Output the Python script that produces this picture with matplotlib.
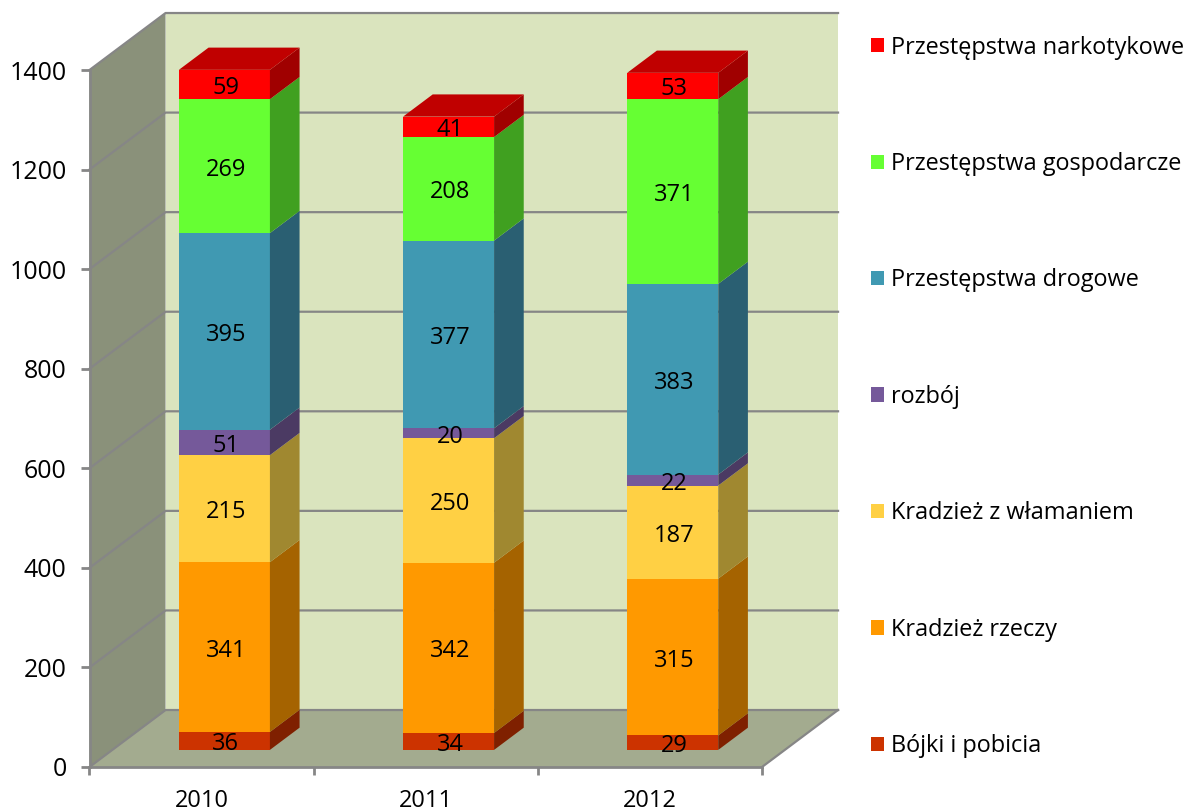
import matplotlib
matplotlib.use("Agg")
from matplotlib import pyplot as plt
from matplotlib.patches import Patch

plt.rcParams['font.family'] = ['Open Sans', 'DejaVu Sans']

years = ["2010", "2011", "2012"]
series_names = ["Bójki i pobicia", "Kradzież rzeczy", "Kradzież z włamaniem", "rozbój",
                "Przestępstwa drogowe", "Przestępstwa gospodarcze", "Przestępstwa narkotykowe"]
bojki = [36, 34, 29]
rzeczy = [341, 342, 315]
wlamanie = [215, 250, 187]
rozboj = [51, 20, 22]
drogowe = [395, 377, 383]
gospodarcze = [269, 208, 371]
narkotykowe = [59, 41, 53]
series = [bojki, rzeczy, wlamanie, rozboj, drogowe, gospodarcze, narkotykowe]

front_colors = ["#CC3300", "#FF9900", "#FFD044", "#75599A", "#4099B2", "#66FF33", "#FF0000"]
side_colors = ["#7F2000", "#A56300", "#A08830", "#4B3A63", "#2A5F72", "#40A020", "#A00000"]
top_color = "#C00000"
axis_color = "#868686"

# how far the box goes back, in data units
DEPTH_X = 76 / 224
DEPTH_Y = 57 / 0.498
BAR_HALF = 0.203
BAR_FRONT = 0.30
BAR_BACK = 0.69


def project(x, y, depth):
    return x + depth * DEPTH_X, y + depth * DEPTH_Y


def quad(ax, corners, color, z):
    xs = [c[0] for c in corners]
    ys = [c[1] for c in corners]
    ax.fill(xs, ys, color=color, lw=0, clip_on=False, zorder=z)


def draw_box(ax):
    x0, x1 = ax.get_xlim()
    y0, y1 = ax.get_ylim()
    quad(ax, [project(x0, y0, 1), project(x1, y0, 1), project(x1, y1, 1), project(x0, y1, 1)], "#DAE4BE", 1)
    quad(ax, [project(x0, y0, 0), project(x0, y0, 1), project(x0, y1, 1), project(x0, y1, 0)], "#8A917A", 1)
    quad(ax, [project(x0, y0, 0), project(x1, y0, 0), project(x1, y0, 1), project(x0, y0, 1)], "#A3AB8F", 1)
    for tick in range(0, 1600, 200):
        xs, ys = zip(project(x0, tick, 0), project(x0, tick, 1), project(x1, tick, 1))
        ax.plot(xs, ys, color=axis_color, lw=1.6, clip_on=False, zorder=2)
    # slanted edge of the floor on the right
    xs, ys = zip(project(x1, y0, 0), project(x1, y0, 1))
    ax.plot(xs, ys, color=axis_color, lw=1.6, clip_on=False, zorder=2)


def draw_bar(ax, pos, values):
    left = pos - BAR_HALF
    right = pos + BAR_HALF
    bottom = 0
    for value, front, side in zip(values, front_colors, side_colors):
        top = bottom + value
        quad(ax, [project(left, bottom, BAR_FRONT), project(right, bottom, BAR_FRONT),
                  project(right, top, BAR_FRONT), project(left, top, BAR_FRONT)], front, 3)
        quad(ax, [project(right, bottom, BAR_FRONT), project(right, bottom, BAR_BACK),
                  project(right, top, BAR_BACK), project(right, top, BAR_FRONT)], side, 3)
        ax.annotate(str(value), project(pos, bottom + value / 2, BAR_FRONT), xytext=(1, -2.5),
                    textcoords="offset points", ha="center", va="center", fontsize=17,
                    color="black", zorder=5)
        bottom = top
    quad(ax, [project(left, bottom, BAR_FRONT), project(right, bottom, BAR_FRONT),
              project(right, bottom, BAR_BACK), project(left, bottom, BAR_BACK)], top_color, 4)


fig = plt.figure(figsize=(11.93, 8.11), dpi=100)
ax = fig.add_axes([89.5 / 1193, (811 - 767) / 811, 672.5 / 1193, 697 / 811])
ax.patch.set_visible(False)
ax.set_xlim(-0.5, 2.5)
ax.set_ylim(0, 1400)

draw_box(ax)
for i in range(len(years)):
    draw_bar(ax, i, [s[i] for s in series])

for name in ["top", "right"]:
    ax.spines[name].set_visible(False)
for name in ["left", "bottom"]:
    ax.spines[name].set_color(axis_color)
    ax.spines[name].set_linewidth(2)
    ax.spines[name].set_zorder(2.5)

ax.set_yticks(range(0, 1600, 200))
ax.tick_params(axis="y", length=6.5, width=2, color=axis_color, pad=10, labelsize=18)
ax.set_xticks([-0.5, 0.5, 1.5, 2.5])
ax.set_xticklabels([])
ax.tick_params(axis="x", which="major", length=6, width=2, color=axis_color)
ax.set_xticks([0, 1, 2], minor=True)
ax.set_xticklabels(years, minor=True, fontsize=17)
ax.tick_params(axis="x", which="minor", length=0, pad=15.5)

handles = [Patch(color=c, lw=0) for c in reversed(front_colors)]
fig.legend(handles, list(reversed(series_names)), loc="upper left",
           bbox_to_anchor=(871 / 1193, 1 - 35.5 / 811), bbox_transform=fig.transFigure,
           frameon=False, fontsize=16.9, labelspacing=3.94, handlelength=0.56, handleheight=0.56,
           handletextpad=0.3, borderpad=0, borderaxespad=0)

fig.savefig("out.png", dpi=100)
